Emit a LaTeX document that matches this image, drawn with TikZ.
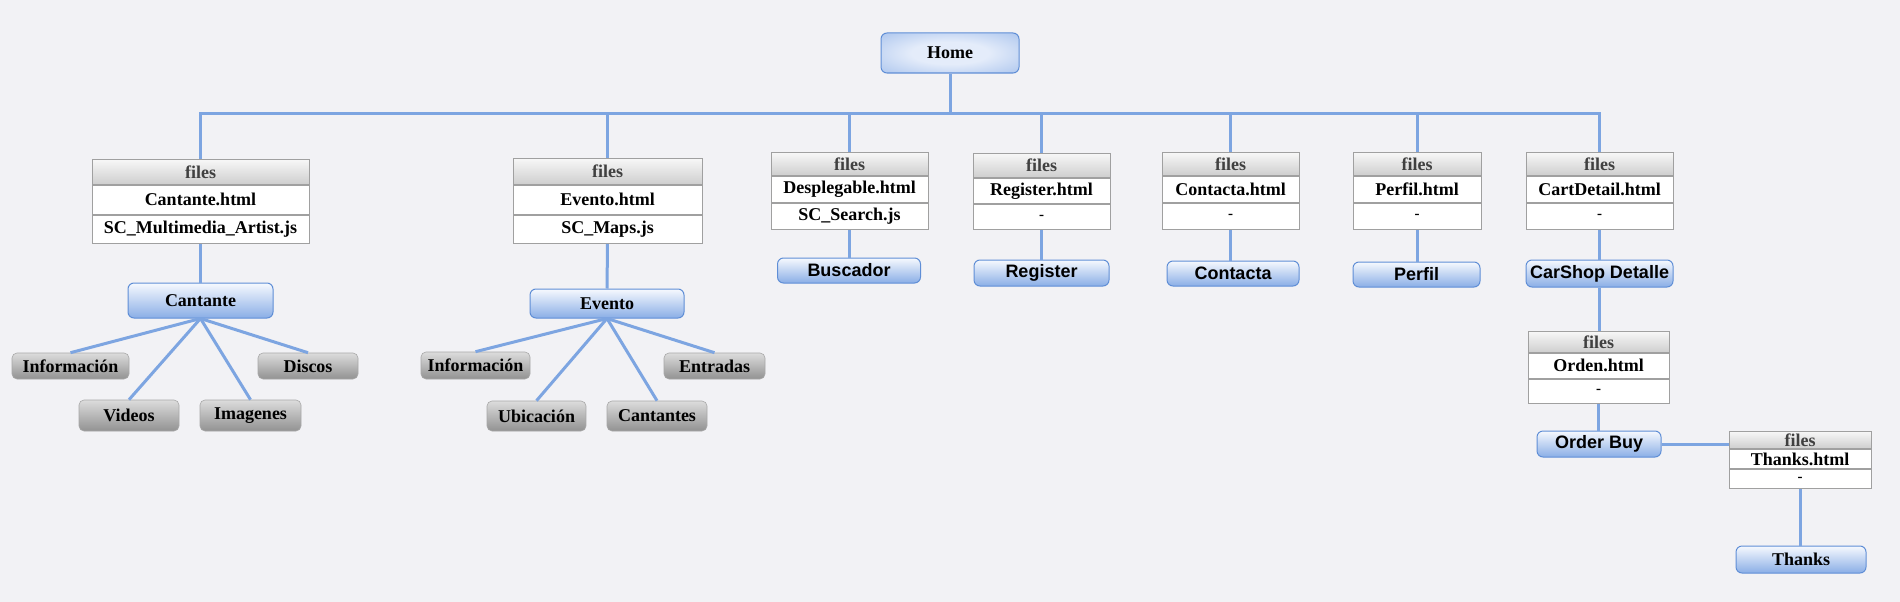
\documentclass[tikz,border=0pt]{standalone}
\usepackage{fontspec}
\setmainfont{Liberation Serif}
\setsansfont{Liberation Sans}

\definecolor{bgback}{RGB}{242,242,245}
\definecolor{linkblue}{RGB}{125,165,225}
\definecolor{vborder}{RGB}{95,142,214}
\definecolor{vtop}{RGB}{246,249,254}
\definecolor{vbot}{RGB}{138,174,230}
\definecolor{hcore}{RGB}{228,236,250}
\definecolor{ltop}{RGB}{220,220,220}
\definecolor{lbot}{RGB}{146,146,146}
\definecolor{tborder}{RGB}{160,160,160}
\definecolor{htop}{RGB}{247,247,247}
\definecolor{hbot}{RGB}{206,206,206}
\definecolor{htext}{RGB}{64,64,64}

\pgfdeclareradialshading{homeglow}{\pgfpoint{0bp}{0bp}}{color(0bp)=(hcore);color(14bp)=(hcore);color(50bp)=(vbot);color(100bp)=(vbot)}

\tikzset{
  VPage/.style={draw=vborder,line width=1pt,rounded corners=6pt,top color=vtop,bottom color=vbot,
    inner sep=0pt,font=\fontsize{18}{20}\selectfont\bfseries},
  VPageSf/.style={VPage,font=\fontsize{18}{20}\selectfont\sffamily\bfseries},
  VHome/.style={VPage,shading=homeglow},
  VLeaf/.style={draw=lbot!80,line width=.6pt,rounded corners=5pt,top color=ltop,bottom color=lbot,
    inner sep=0pt,font=\fontsize{18}{20}\selectfont\bfseries},
  TabHead/.style={draw=tborder,line width=1pt,top color=htop,bottom color=hbot,text=htext,
    inner sep=0pt,anchor=north,font=\fontsize{18}{20}\selectfont\bfseries},
  TabRow/.style={draw=tborder,line width=1pt,fill=white,text=black,inner sep=0pt,anchor=north,
    font=\fontsize{18}{20}\selectfont\bfseries},
  Link/.style={draw=linkblue,line width=3pt},
}

% files table: name, x, top, width, head, row, html, js
\newcommand{\FileBox}[8]{%
  \node[TabHead,minimum width=#4,minimum height=#5] (#1h) at (#2,#3) {files};
  \node[TabRow,minimum width=#4,minimum height=#6] (#1a) at (#1h.south) {#7};
  \node[TabRow,minimum width=#4,minimum height=#6] (#1b) at (#1a.south) {#8};
}
\newcommand{\nojs}{{\fontsize{15}{16}\selectfont -}}

\begin{document}
\begin{tikzpicture}[x=1pt,y=-1pt]
\fill[bgback] (0,0) rectangle (1900,602);
\useasboundingbox (0,0) rectangle (1900,602);
            % Vertices
\node[VHome,minimum width=138,minimum height=40] (home) at (950,53) {Home};
\coordinate (bus) at (950,113);
            %Tables
\FileBox{tcan}{200.5}{159}{217}{25}{28.5}{Cantante.html}{SC\_Multimedia\_Artist.js}
\FileBox{tevt}{607.5}{158}{189}{26}{28.5}{Evento.html}{SC\_Maps.js}
\FileBox{tdes}{849.5}{152}{157}{23}{26}{Desplegable.html}{SC\_Search.js}
\FileBox{treg}{1041.5}{153}{137}{24}{25}{Register.html}{\nojs}
\FileBox{tcon}{1230.5}{152}{137}{23}{26}{Contacta.html}{\nojs}
\FileBox{tper}{1417}{152}{128}{23}{26}{Perfil.html}{\nojs}
\FileBox{tcar}{1599.5}{152}{147}{23}{26}{CartDetail.html}{\nojs}
\FileBox{tord}{1598.5}{331}{141}{21}{24.5}{Orden.html}{\nojs}
\FileBox{ttha}{1800}{431}{142}{17}{19}{Thanks.html}{\nojs}
            %Pages
\node[VPage,minimum width=145,minimum height=35] (vcan) at (200.5,300.5) {Cantante};
\node[VPage,minimum width=154,minimum height=29] (vevt) at (607,303.5) {Evento};
\node[VPageSf,minimum width=143,minimum height=25] (vbus) at (849,270.5) {Buscador};
\node[VPageSf,minimum width=135,minimum height=26] (vreg) at (1041.5,273) {Register};
\node[VPageSf,minimum width=132,minimum height=25] (vcon) at (1233,273.5) {Contacta};
\node[VPageSf,minimum width=127,minimum height=25] (vper) at (1416.5,274.5) {Perfil};
\node[VPageSf,minimum width=147,minimum height=27] (vcar) at (1599.5,273.5) {CarShop Detalle};
\node[VPageSf,minimum width=124,minimum height=26] (vord) at (1599,444) {Order Buy};
\node[VPage,minimum width=130,minimum height=27] (vtha) at (1801,559.5) {Thanks};
            %Leaves
\node[VLeaf,minimum width=117,minimum height=26] (lcinf) at (70.5,366) {Información};
\node[VLeaf,minimum width=100,minimum height=31] (lcvid) at (129,415.5) {Videos};
\node[VLeaf,minimum width=101,minimum height=31] (lcima) at (250.5,415.5) {Imagenes};
\node[VLeaf,minimum width=100,minimum height=26] (lcdis) at (308,366) {Discos};
\node[VLeaf,minimum width=109,minimum height=27] (leinf) at (475.5,365.5) {Información};
\node[VLeaf,minimum width=99,minimum height=30] (leubi) at (536.5,416) {Ubicación};
\node[VLeaf,minimum width=100,minimum height=30] (lecan) at (657,416) {Cantantes};
\node[VLeaf,minimum width=101,minimum height=26] (leent) at (714.5,366) {Entradas};
            %Edges
\draw[Link] (home) -- (bus);%bus
\foreach \t in {tcan,tevt,tdes,treg,tcon,tper,tcar}
  \draw[Link] (bus) -| (\t h);%drop
\draw[Link] (tcanb) -- (vcan);
\draw[Link] (tevtb) -- (vevt);
\draw[Link] (tdesb.south) -- (tdesb.south |- vbus.north);
\draw[Link] (tregb.south) -- (tregb.south |- vreg.north);
\draw[Link] (tconb.south) -- (tconb.south |- vcon.north);
\draw[Link] (tperb.south) -- (tperb.south |- vper.north);
\draw[Link] (tcarb.south) -- (tcarb.south |- vcar.north);
\draw[Link] (vcar.south) -- (vcar.south |- tordh.north);
\draw[Link] (tordb.south) -- (tordb.south |- vord.north);
\draw[Link] (vord.east) -- (vord.east -| tthah.west);
\draw[Link] (tthab.south) -- (tthab.south |- vtha.north);
            %Fans
\foreach \l in {lcinf,lcvid,lcima,lcdis}
  \draw[Link] (vcan.south) -- (\l.north);
\foreach \l in {leinf,leubi,lecan,leent}
  \draw[Link] (vevt.south) -- (\l.north);
\end{tikzpicture}
\end{document}
